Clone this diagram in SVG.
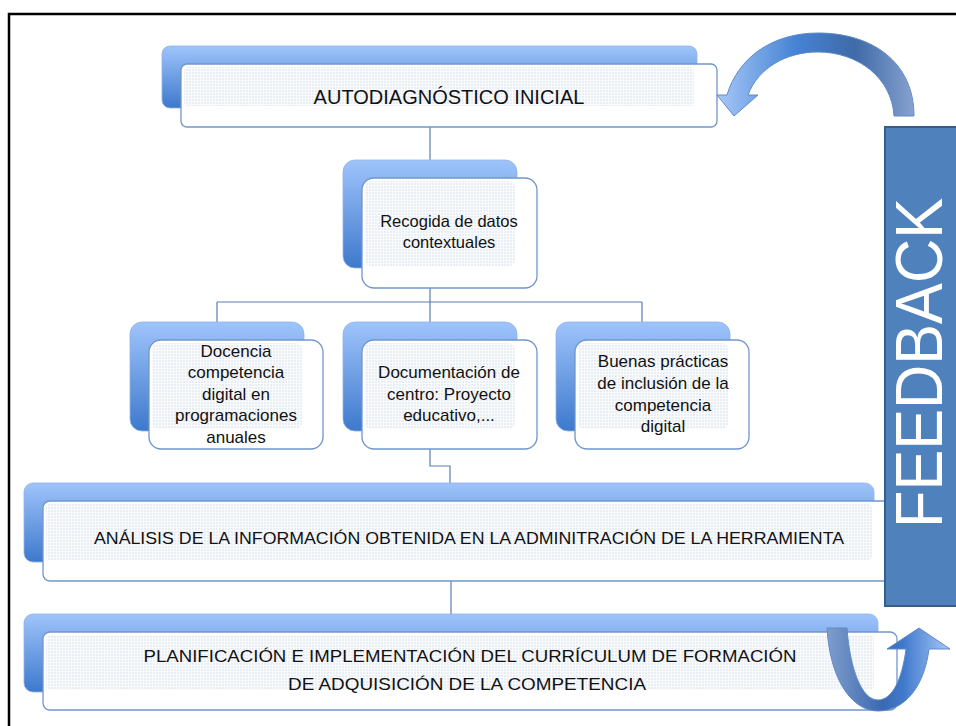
<svg xmlns="http://www.w3.org/2000/svg" width="956" height="726" viewBox="0 0 956 726">
<style>
.back{fill:url(#gBack);stroke:#8fb3ea;stroke-width:0.8}
.front{fill:#ffffff;stroke:#7096cc;stroke-width:1.3}
.tex{fill:url(#dots)}
.t{font-family:"Liberation Sans",Arial,sans-serif;fill:#111111;text-anchor:middle}
.conn{fill:none;stroke:#5b7cb0;stroke-width:1.2}
</style>
<defs>
<linearGradient id="gBack" x1="0" y1="0" x2="0" y2="1">
<stop offset="0" stop-color="#9fc4fb"/>
<stop offset="1" stop-color="#3d79cc"/>
</linearGradient>
<pattern id="dots" width="3" height="3" patternUnits="userSpaceOnUse">
<rect width="3" height="3" fill="#fafbfd"/>
<rect width="2" height="2" fill="#e9eef5"/>
</pattern>
<linearGradient id="gTop" x1="0" y1="0" x2="1" y2="0">
<stop offset="0" stop-color="#a6c8f8"/>
<stop offset="0.4" stop-color="#4683d4"/>
<stop offset="0.7" stop-color="#3f6aa8"/>
<stop offset="1" stop-color="#86a2cf"/>
</linearGradient>
<linearGradient id="gU" x1="0" y1="0" x2="1" y2="0">
<stop offset="0" stop-color="#809dcb"/>
<stop offset="0.45" stop-color="#3a69b1"/>
<stop offset="0.62" stop-color="#4079cc"/>
<stop offset="1" stop-color="#a6c8f8"/>
</linearGradient>
</defs>
<rect width="956" height="726" fill="#ffffff"/>
<path d="M 9 726 L 9 14 L 956 14" fill="none" stroke="#000000" stroke-width="2.5"/>

<g id="connectors">
<path class="conn" d="M 430 127 L 430 178"/>
<path class="conn" d="M 430 288 L 430 302 M 217 302 L 642 302 M 217 302 L 217 340 M 430 302 L 430 340 M 642 302 L 642 340"/>
<path class="conn" d="M 430 449 L 430 466 L 450 466 L 450 483"/>
<path class="conn" d="M 451 581 L 451 614"/>
</g>

<g id="n-autodiagnostico">
<rect class="back" x="162" y="46" width="535" height="62" rx="8"/>
<rect class="front" x="181" y="64" width="536" height="63" rx="6"/>
<rect class="tex" x="184" y="67" width="510" height="39" rx="4"/>
<text class="t" x="449" y="104" font-size="20">AUTODIAGNÓSTICO INICIAL</text>
</g>

<g id="n-recogida">
<rect class="back" x="343" y="160" width="174" height="108" rx="12"/>
<rect class="front" x="362" y="178" width="175" height="110" rx="12"/>
<rect class="tex" x="365" y="181" width="150" height="85" rx="6"/>
<text class="t" x="449" y="227" font-size="16.5">Recogida de datos</text>
<text class="t" x="449" y="248" font-size="16.5">contextuales</text>
</g>

<g id="n-docencia">
<rect class="back" x="130" y="322" width="174" height="109" rx="12"/>
<rect class="front" x="149" y="340" width="174" height="109" rx="12"/>
<rect class="tex" x="152" y="343" width="150" height="86" rx="6"/>
<text class="t" x="236" y="357" font-size="17">Docencia</text>
<text class="t" x="236" y="378" font-size="17">competencia</text>
<text class="t" x="236" y="400" font-size="17">digital en</text>
<text class="t" x="236" y="421" font-size="17">programaciones</text>
<text class="t" x="236" y="443" font-size="17">anuales</text>
</g>

<g id="n-documentacion">
<rect class="back" x="343" y="322" width="174" height="109" rx="12"/>
<rect class="front" x="362" y="340" width="175" height="109" rx="12"/>
<rect class="tex" x="365" y="343" width="150" height="86" rx="6"/>
<text class="t" x="449" y="378" font-size="17">Documentación de</text>
<text class="t" x="449" y="400" font-size="17">centro: Proyecto</text>
<text class="t" x="449" y="421" font-size="17">educativo,...</text>
</g>

<g id="n-buenas">
<rect class="back" x="556" y="322" width="174" height="109" rx="12"/>
<rect class="front" x="575" y="340" width="174" height="109" rx="12"/>
<rect class="tex" x="578" y="343" width="150" height="86" rx="6"/>
<text class="t" x="663" y="367" font-size="17">Buenas prácticas</text>
<text class="t" x="663" y="389" font-size="17">de inclusión de la</text>
<text class="t" x="663" y="411" font-size="17">competencia</text>
<text class="t" x="663" y="432" font-size="17">digital</text>
</g>

<g id="n-analisis">
<rect class="back" x="24" y="483" width="850" height="79" rx="9"/>
<rect class="front" x="43" y="501" width="870" height="80" rx="7"/>
<rect class="tex" x="46" y="504" width="826" height="56" rx="4"/>
<text class="t" x="469" y="544" font-size="17" textLength="750" lengthAdjust="spacingAndGlyphs">ANÁLISIS DE LA INFORMACIÓN OBTENIDA EN LA ADMINITRACIÓN DE LA HERRAMIENTA</text>
</g>

<g id="n-feedback">
<rect x="885" y="127" width="80" height="479" fill="#4f81bd" stroke="#385d8a" stroke-width="2"/>
<text x="942" y="528" transform="rotate(-90 942 528)" font-family="Liberation Sans, Arial, sans-serif" font-size="66" fill="#ffffff" textLength="330" lengthAdjust="spacingAndGlyphs">FEEDBACK</text>
</g>

<g id="n-planificacion">
<rect class="back" x="24" y="614" width="854" height="78" rx="9"/>
<rect class="front" x="43" y="632" width="854" height="78" rx="7"/>
<rect class="tex" x="46" y="635" width="828" height="55" rx="4"/>
<text class="t" x="470" y="662" font-size="17" textLength="653" lengthAdjust="spacingAndGlyphs">PLANIFICACIÓN E IMPLEMENTACIÓN DEL CURRÍCULUM DE FORMACIÓN</text>
<text class="t" x="467" y="690" font-size="17" textLength="358" lengthAdjust="spacingAndGlyphs">DE ADQUISICIÓN DE LA COMPETENCIA</text>
</g>

<g id="arrow-top">
<path d="M 914 116 C 914 62 872 33 818 33 C 772 33 738 58 727 95 L 717 95 L 734 116 L 758 95 L 748 95 C 758 68 786 52 818 52 C 858 52 892 78 894 116 Z" fill="url(#gTop)" stroke="#5f8bc8" stroke-width="1"/>
</g>

<g id="arrow-bottom">
<path d="M 827 628 C 830 680 852 711 878 711 C 904 711 924 688 929 649 L 950 649 L 919 628 L 887 649 L 906 649 C 902 680 892 700 878 700 C 862 700 850 670 847 628 Z" fill="url(#gU)" stroke="#5f8bc8" stroke-width="1"/>
</g>
</svg>
